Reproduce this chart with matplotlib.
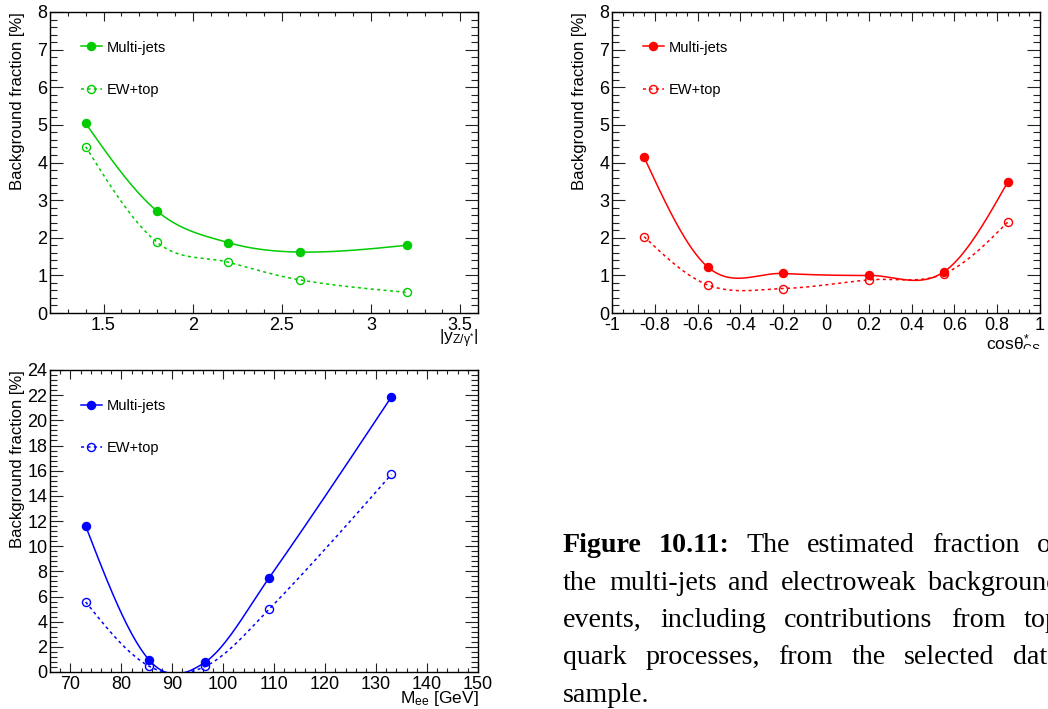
import numpy as np
import matplotlib
matplotlib.use("Agg")
import matplotlib.pyplot as plt
from matplotlib.ticker import MultipleLocator, FuncFormatter
from matplotlib.lines import Line2D
from matplotlib.transforms import Bbox, TransformedBbox

plt.rcParams["font.family"] = ["Liberation Sans", "DejaVu Sans"]
plt.rcParams["mathtext.fontset"] = "custom"
plt.rcParams["mathtext.rm"] = "Liberation Sans"
plt.rcParams["mathtext.it"] = "Liberation Sans"
plt.rcParams["mathtext.bf"] = "Liberation Sans:bold"
plt.rcParams["axes.unicode_minus"] = False

W, H = 1048, 709

# Background fraction [%] versus dielectron rapidity
rap_x = [1.4, 1.8, 2.2, 2.6, 3.2]
rap_multijet = [5.04, 2.71, 1.87, 1.62, 1.80]
rap_ewtop = [4.42, 1.88, 1.35, 0.88, 0.55]

# Background fraction [%] versus cos(theta*) in the Collins-Soper frame
cos_x = [-0.85, -0.55, -0.2, 0.2, 0.55, 0.85]
cos_multijet = [4.14, 1.21, 1.05, 1.00, 1.09, 3.49]
cos_ewtop = [2.03, 0.74, 0.65, 0.88, 1.04, 2.42]

# Background fraction [%] versus dielectron invariant mass
mass_x = [73, 85.5, 96.5, 109, 133]
mass_multijet = [11.6, 0.93, 0.80, 7.48, 21.86]
mass_ewtop = [5.57, 0.45, 0.45, 4.99, 15.7]

series_labels = ["Multi-jets", "EW+top"]

caption_lines = [
    "Figure 10.11: The estimated fraction of",
    "the multi-jets and electroweak background",
    "events, including contributions from top",
    "quark processes, from the selected data",
    "sample.",
]


def smooth_curve(x, y, n=60):
    """Cubic Hermite curve through the points, central-difference tangents
    inside and natural end conditions."""
    x = np.asarray(x, float)
    y = np.asarray(y, float)
    k = len(x)
    m = np.zeros(k)
    m[1:-1] = (y[2:] - y[:-2]) / (x[2:] - x[:-2])
    s0 = (y[1] - y[0]) / (x[1] - x[0])
    s1 = (y[-1] - y[-2]) / (x[-1] - x[-2])
    m[0] = (3 * s0 - m[1]) / 2
    m[-1] = (3 * s1 - m[-2]) / 2
    xs_all, ys_all = [], []
    for i in range(k - 1):
        h = x[i + 1] - x[i]
        t = np.linspace(0, 1, n)
        h00 = 2 * t ** 3 - 3 * t ** 2 + 1
        h10 = t ** 3 - 2 * t ** 2 + t
        h01 = -2 * t ** 3 + 3 * t ** 2
        h11 = t ** 3 - t ** 2
        xs_all.append(x[i] + t * h)
        ys_all.append(h00 * y[i] + h10 * h * m[i] + h01 * y[i + 1] + h11 * h * m[i + 1])
    return np.concatenate(xs_all), np.concatenate(ys_all)


def px_axes(left, top, right, bottom):
    return [left / W, 1 - bottom / H, (right - left) / W, (bottom - top) / H]


fmt = FuncFormatter(lambda v, p: "%g" % round(v, 6) if abs(v) > 1e-9 else "0")

LW = 1.1
DASH = (0, (2.0, 2.2))
MS = 5.8


def draw_panel(ax, x, mj, ew, color, xlim, ylim, xmaj, xmin, ymaj, ymin):
    xs, ys = smooth_curve(x, mj)
    ax.plot(xs, ys, color=color, lw=LW)
    ax.plot(x, mj, "o", color=color, ms=MS, mec=color)
    xs, ys = smooth_curve(x, ew)
    ax.plot(xs, ys, color=color, lw=LW, ls=DASH)
    ax.plot(x, ew, "o", ms=MS, mfc="none", mec=color, mew=1.0)
    ax.set_xlim(*xlim)
    ax.set_ylim(*ylim)
    ax.xaxis.set_major_locator(MultipleLocator(xmaj))
    ax.xaxis.set_minor_locator(MultipleLocator(xmin))
    ax.yaxis.set_major_locator(MultipleLocator(ymaj))
    ax.yaxis.set_minor_locator(MultipleLocator(ymin))
    ax.xaxis.set_major_formatter(fmt)
    ax.yaxis.set_major_formatter(fmt)
    ax.tick_params(which="both", direction="in", top=True, right=True,
                   labelsize=13, width=0.8, color="#222222")
    ax.tick_params(axis="x", which="major", length=6.5, pad=3.0)
    ax.tick_params(axis="x", which="minor", length=3.2)
    ax.tick_params(axis="y", which="major", length=9.4, pad=1.8)
    ax.tick_params(axis="y", which="minor", length=4.7)
    for s in ax.spines.values():
        s.set_linewidth(1.0)

    handles = [
        Line2D([], [], color=color, lw=LW, marker="o", ms=MS),
        Line2D([], [], color=color, lw=LW, ls=DASH, marker="o",
               ms=MS, mfc="none", mec=color),
    ]
    ax.legend(handles, series_labels, loc="upper left",
              bbox_to_anchor=(0.072, 0.905), frameon=False, fontsize=10.5,
              borderpad=0, borderaxespad=0, handlelength=1.45,
              handletextpad=0.35, labelspacing=1.95)


fig = plt.figure(figsize=(W / 100, H / 100), dpi=100)
fig.patch.set_facecolor("white")

green, red, blue = "#00cc00", "#ff0000", "#0000ff"

ax1 = fig.add_axes(px_axes(50, 12, 478, 313))
draw_panel(ax1, rap_x, rap_multijet, rap_ewtop, green,
           (1.2, 3.6), (0, 8), 0.5, 0.1, 1, 0.2)

ax2 = fig.add_axes(px_axes(612, 12, 1040, 313))
draw_panel(ax2, cos_x, cos_multijet, cos_ewtop, red,
           (-1, 1), (0, 8), 0.2, 0.05, 1, 0.2)

ax3 = fig.add_axes(px_axes(50, 370, 478, 672))
draw_panel(ax3, mass_x, mass_multijet, mass_ewtop, blue,
           (66, 150), (0, 24), 10, 2, 2, 0.4)


def ftext(x, y, s, **kw):
    return fig.text(x / W, 1 - y / H, s, **kw)


ylab = "Background fraction [%]"
ftext(17.5, 12, ylab, rotation=90, ha="center", va="top", fontsize=12)
ftext(579.5, 12, ylab, rotation=90, ha="center", va="top", fontsize=12)
ftext(17.5, 370, ylab, rotation=90, ha="center", va="top", fontsize=12)

ftext(479, 327, r"$|\mathrm{y}_{\mathrm{Z}/\gamma^{*}}|$", ha="right", va="top",
      fontsize=12.5)
t = ftext(1041, 333, r"cos$\theta^{*}_{\mathrm{CS}}$", ha="right", va="top",
          fontsize=12.5)
t.set_clip_box(TransformedBbox(Bbox.from_extents(0, 1 - 349 / H, 1, 1),
                               fig.transFigure))
t.set_clip_on(True)
ftext(479, 689, r"M$_{\mathrm{ee}}$ [GeV]", ha="right", va="top", fontsize=12.5)

# Caption, justified between x0 and x1
renderer = fig.canvas.get_renderer()
x0, x1 = 563, 1060
base0, lead = 552, 37.5
cap_size = 20.2
for i, line in enumerate(caption_lines):
    words = line.split(" ")
    styles = ["bold" if (i == 0 and j < 2) else "normal" for j in range(len(words))]
    widths = []
    for w_, st in zip(words, styles):
        tt = fig.text(0, 0, w_, family="Liberation Serif", fontsize=cap_size,
                      weight=st)
        widths.append(tt.get_window_extent(renderer).width)
        tt.remove()
    y = base0 + i * lead
    if i == len(caption_lines) - 1 or len(words) == 1:
        gap = 7.0
    else:
        gap = (x1 - x0 - sum(widths)) / (len(words) - 1)
    x = x0
    for w_, st, wd in zip(words, styles, widths):
        ftext(x, y, w_, family="Liberation Serif", fontsize=cap_size,
              weight=st, va="baseline", ha="left")
        x += wd + gap

fig.savefig("out.png", dpi=100, facecolor="white")
